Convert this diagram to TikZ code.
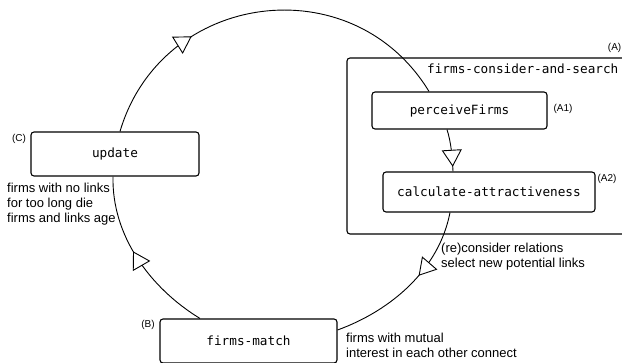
\documentclass[tikz,border=0pt]{standalone}
\usepackage{fontspec}
\setmainfont{Liberation Sans}
\newfontfamily\monofnt{DejaVu Sans Mono}
\usetikzlibrary{arrows.meta,decorations.markings}
\begin{document}
\begin{tikzpicture}[x=1pt,y=-1pt,
  box/.style={draw, line width=1.1pt, rounded corners=3pt, inner sep=0pt, fill=white,
    font=\monofnt\fontsize{12.7}{14}\selectfont},
  grpbox/.style={draw, line width=1.1pt, rounded corners=3pt, inner sep=0pt},
  tag/.style={font=\fontsize{10}{12}\selectfont, inner sep=0pt},
  note/.style={font=\fontsize{13}{15}\selectfont, align=left, inner sep=0pt, anchor=west},
  flow/.style={line width=0.9pt, postaction={decorate},
    decoration={markings, mark=at position #1 with
      {\arrow{Triangle[fill=white, length=17pt, width=20pt, line width=0.9pt]}}}},
]
\useasboundingbox (0,0) rectangle (622,363);

% group box (A)
\node[grpbox, minimum width=313pt, minimum height=176pt] (grp) at (503.5,146) {};
\node[font=\monofnt\fontsize{12.7}{14}\selectfont, inner sep=0pt, anchor=west] (grptitle) at (427,69) {firms-consider-and-search};
\node[tag, anchor=east] (tA) at (621.5,48) {(A)};

% nodes
\node[box, minimum width=168pt, minimum height=44pt] (upd) at (115,154) {update};
\node[box, minimum width=175pt, minimum height=37pt] (pf) at (459.5,110.5) {perceiveFirms};
\node[box, minimum width=212pt, minimum height=40pt] (ca) at (489,192) {calculate-attractiveness};
\node[box, minimum width=177pt, minimum height=44pt] (fm) at (248.5,341) {firms-match};

% connectors (clockwise cycle)
\draw[flow=0.31] ([xshift=5pt]upd.north) .. controls (161.5,-9) and (352.4,-34.5) .. ([xshift=-30.5pt]pf.north);
\draw[flow=0.89] ([xshift=-12.5pt]pf.south) .. controls (451.3,142.9) and (452.3,157.5) .. ([xshift=-36pt]ca.north);
\draw[flow=0.42] ([xshift=-39pt]ca.south) .. controls (439,269) and (391.9,310.2) .. ([yshift=11pt]fm.east);
\draw[flow=0.55] ([xshift=-48.5pt]fm.north) .. controls (149.4,287.6) and (111.7,235) .. ([xshift=-2pt]upd.south);

% tags
\node[tag] (tA1) at (563,109) {(A1)};
\node[tag] (tA2) at (607,179) {(A2)};
\node[tag] (tC) at (19,139) {(C)};
\node[tag] (tB) at (148,325) {(B)};

% notes
\node[note] (nC) at (7,204) {firms with no links\\for too long die\\firms and links age};
\node[note] (nA) at (441,257) {(re)consider relations\\select new potential links};
\node[note] (nB) at (346,345.5) {firms with mutual\\interest in each other connect};
\end{tikzpicture}
\end{document}
